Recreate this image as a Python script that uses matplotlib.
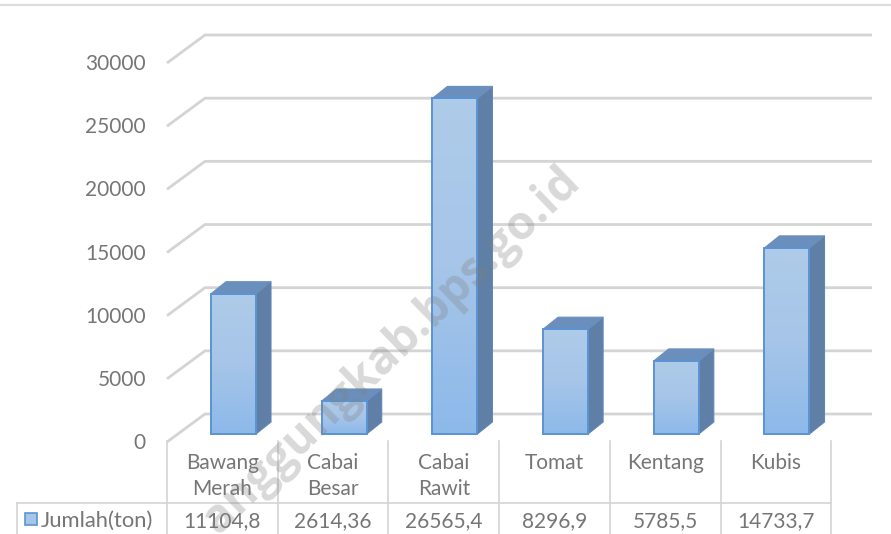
import numpy as np
import matplotlib
matplotlib.use("Agg")
import matplotlib.pyplot as plt
from matplotlib.patches import Polygon, Rectangle
from matplotlib.colors import LinearSegmentedColormap

categories = ["Bawang\nMerah", "Cabai\nBesar", "Cabai\nRawit", "Tomat", "Kentang", "Kubis"]
values = [11104.8, 2614.36, 26565.4, 8296.9, 5785.5, 14733.7]
value_labels = ["11104,8", "2614,36", "26565,4", "8296,9", "5785,5", "14733,7"]
y_ticks = [0, 5000, 10000, 15000, 20000, 25000, 30000]
series_name = "Jumlah(ton)"

W, H = 891, 534
CELL = 110.7        # px per category
SCALE = 0.012633    # px per unit
X0 = 167            # px of first category edge
Y0 = 434            # px of the bars' base
TEXT = "#767676"
GRID = "#d4d4d4"

plt.rcParams["font.family"] = ["Lato", "DejaVu Sans"]

fig = plt.figure(figsize=(W / 100, H / 100), dpi=100)
ax = fig.add_axes([0, 0, 1, 1])
ax.axis("off")


def set_limits():
  ax.set_xlim(-X0 / CELL, (W - X0) / CELL)
  ax.set_ylim((Y0 - H) / SCALE, Y0 / SCALE)


# pixel offsets converted to data units
def dx(px):
  return px / CELL


def dy(px):
  return px / SCALE


set_limits()
cmap = LinearSegmentedColormap.from_list("bar", ["#8db9ea", "#a6c5e8", "#aecbe9"])

# top rule of the slide
ax.plot([dx(-X0), dx(W - X0)], [dy(429), dy(429)], color="#dcdcdc", lw=1.6, zorder=1)

# gridlines: slanted part on the side wall, then along the back wall
for t in y_ticks:
  ax.plot([0, dx(38), dx(705)], [t + dy(-8), t + dy(20), t + dy(20)],
          color=GRID, lw=2, zorder=1, solid_capstyle="butt")
  ax.text(dx(-21), t + dy(-9), str(t), ha="right", va="center", fontsize=15, color=TEXT)

# bars
bar_w = dx(45)
for i, v in enumerate(values):
  left = i + dx(44)
  right = left + bar_w
  ox, oy = dx(15), dy(12)
  ax.add_patch(Polygon([(right, 0), (right + ox, oy), (right + ox, v + oy), (right, v)],
                       fc="#5f7fa6", ec="#5f86b5", lw=0.8, zorder=3))
  ax.add_patch(Polygon([(left, v), (left + ox, v + oy), (right + ox, v + oy), (right, v)],
                       fc="#6a8fbd", ec="#6a8fbd", lw=0.8, zorder=3))
  im = ax.imshow(np.linspace(0, 1, 64).reshape(-1, 1), cmap=cmap, aspect="auto",
                 extent=[left, right, 0, v], origin="lower", zorder=3.5)
  im.set_clip_path(Rectangle((left, 0), bar_w, v, transform=ax.transData))
  ax.add_patch(Rectangle((left, 0), bar_w, v, fc="none", ec="#5b93d3", lw=1.4, zorder=4))

set_limits()

# data table, it runs off the bottom of the picture
table_top = dy(-7)
row_y = dy(-69)
table_bottom = dy(-100)
for i in range(7):
  ax.plot([i, i], [table_top, table_bottom], color=GRID, lw=1.2, zorder=1)
ax.plot([dx(-150), 6], [row_y, row_y], color=GRID, lw=1.2, zorder=1)
ax.plot([dx(-150), dx(-150)], [row_y, table_bottom], color=GRID, lw=1.2, zorder=1)

for i, (c, lab) in enumerate(zip(categories, value_labels)):
  ax.text(i + 0.5, dy(-19), c, ha="center", va="top", fontsize=15, color=TEXT, linespacing=1.35)
  ax.text(i + 0.5, dy(-87), lab, ha="center", va="center", fontsize=15, color=TEXT)

# legend key in the table
ax.add_patch(Rectangle((dx(-142.5), dy(-91)), dx(13), dy(12), fc="#a6c5e8", ec="#5b93d3", lw=1.2))
ax.text(dx(-126), dy(-87), series_name, ha="left", va="center", fontsize=15.8, color=TEXT)

# watermark, only this much of it is visible in the picture
ax.text(dx(224), dy(83), "anggungkab.bps.go.id", rotation=44, rotation_mode="anchor",
        ha="center", va="center", family="Open Sans", fontsize=33.5, fontweight="bold",
        color="#808080", alpha=0.3, zorder=6)

fig.savefig("out.png", dpi=100)
plt.close()
